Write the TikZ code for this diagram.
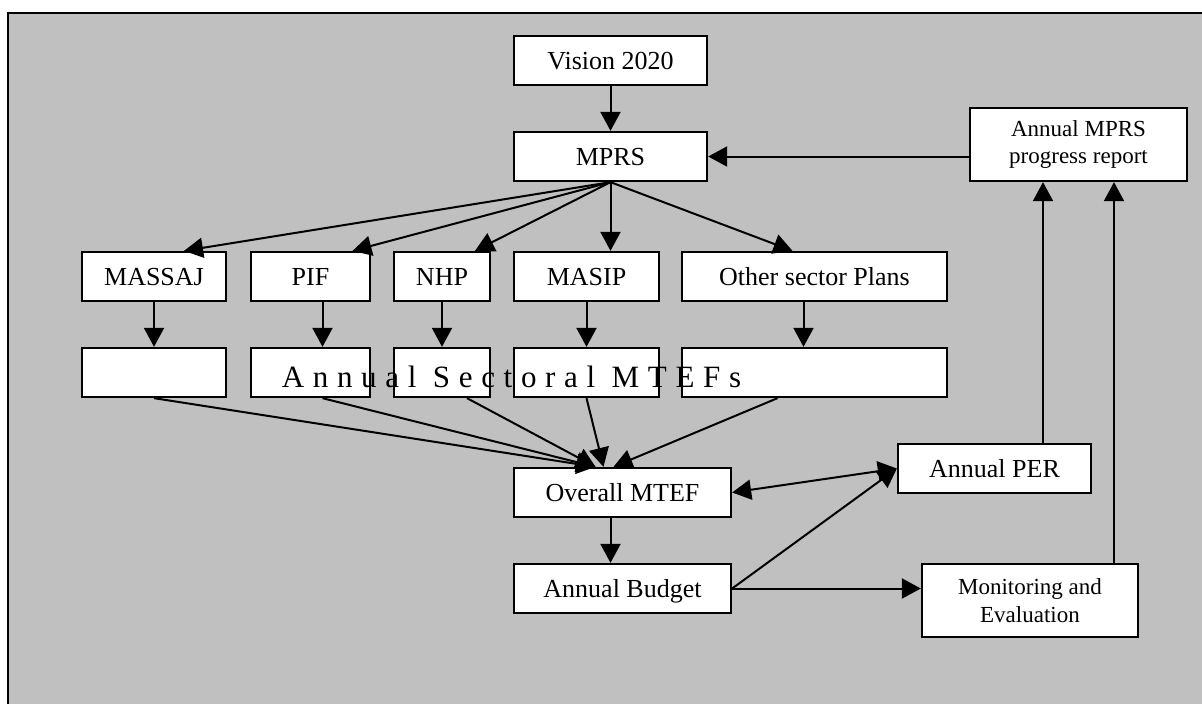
\documentclass[tikz,border=0pt]{standalone}
\usepackage{fontspec}
\setmainfont{Liberation Serif}
\newfontfamily\spacedfont[LetterSpace=28]{Liberation Serif}
\usepackage{tikz}
\usetikzlibrary{arrows.meta, calc}
\definecolor{panelgray}{RGB}{192,192,192}
\tikzstyle{process} = [rectangle, minimum height=49pt, inner sep=0pt, text centered, draw=black, fill=white, line width=2.3pt, font=\fontsize{26}{30}\selectfont, text height=18pt, text depth=0pt]
\tikzstyle{process2} = [rectangle, minimum height=73pt, inner sep=0pt, align=center, draw=black, fill=white, line width=2.3pt, font=\fontsize{23}{28}\selectfont]
\tikzstyle{spaced} = [anchor=base, inner sep=0pt, font=\spacedfont\fontsize{31}{32}\selectfont]
\tikzstyle{arrow} = [line width=2pt, -{Triangle[length=19pt, width=20pt]}]
\tikzstyle{dblarrow} = [line width=2pt, {Triangle[length=19pt, width=20pt]}-{Triangle[length=19pt, width=20pt]}]

\begin{document}
\begin{tikzpicture}[x=1pt, y=1pt, node distance=96pt]
                        \useasboundingbox (0,0) rectangle (1202,-704);
                        \draw [fill=panelgray, line width=2pt] (8,-13) rectangle (1215,-715);

                        \node (1) [process, minimum width=193pt] at (610.5,-60.5) {Vision 2020};
                        \node (2) [process, below of=1, minimum width=193pt] {MPRS};
                        \node (3) [process2, minimum width=217pt] at (1078.5,-144.5) {Annual MPRS\\progress report};

                        \node (4) [process, minimum width=144pt] at (154,-276.5) {MASSAJ};
                        \node (5) [process, minimum width=119pt] at (310.5,-276.5) {PIF};
                        \node (6) [process, minimum width=96pt] at (442,-276.5) {NHP};
                        \node (7) [process, minimum width=145pt] at (586.5,-276.5) {MASIP};
                        \node (8) [process, minimum width=265pt] at (814.5,-276.5) {Other sector Plans};

                        \node (9) [process, below of=4, minimum width=144pt] {};
                        \node (10) [process, below of=5, minimum width=119pt] {};
                        \node (11) [process, below of=6, minimum width=96pt] {};
                        \node (12) [process, below of=7, minimum width=145pt] {};
                        \node (13) [process, below of=8, minimum width=265pt] {};

                        \node (14) [process, minimum width=217pt] at (622.5,-492.5) {Overall MTEF};
                        \node (15) [process, below of=14, minimum width=217pt] {Annual Budget};
                        \node (16) [process, minimum width=193pt] at (994.5,-468.5) {Annual PER};
                        \node (17) [process2, minimum width=216pt] at (1030,-600.5) {Monitoring and\\Evaluation};

                        \node (18) [spaced] at (511.5,-387) {Annual Sectoral MTEFs};

                        \draw [arrow] (1) -- (2);
                        \draw [arrow] ($(3.west)+(0,-12)$) -- (2.east);
                        \draw [arrow] (2.south) -- ($(4.north)+(30,0)$);
                        \draw [arrow] (2.south) -- ($(5.north)+(42,0)$);
                        \draw [arrow] (2.south) -- ($(6.north)+(33,0)$);
                        \draw [arrow] (2.south) -- ($(7.north)+(24,0)$);
                        \draw [arrow] (2.south) -- ($(8.north)+(-22,0)$);

                        \draw [arrow] (4) -- (9);
                        \draw [arrow] ($(5.south)+(12,0)$) -- ($(10.north)+(12,0)$);
                        \draw [arrow] (6) -- (11);
                        \draw [arrow] (7) -- (12);
                        \draw [arrow] ($(8.south)+(-11,0)$) -- ($(13.north)+(-11,0)$);

                        \draw [arrow] (9.south) -- ($(14.north)+(-27,0)$);
                        \draw [arrow] ($(10.south)+(12,0)$) -- ($(14.north)+(-27,0)$);
                        \draw [arrow] ($(11.south)+(25,0)$) -- ($(14.north)+(-27,0)$);
                        \draw [arrow] (12.south) -- ($(14.north)+(-19,0)$);
                        \draw [arrow] ($(13.south)+(-37,0)$) -- ($(14.north)+(-9,0)$);

                        \draw [arrow] ($(14.south)+(-12,0)$) -- ($(15.north)+(-12,0)$);
                        \draw [dblarrow] (14.east) -- (16.west);
                        \draw [arrow] (15.east) -- (16.west);
                        \draw [arrow] (15.east) -- ($(17.west)+(0,12)$);
                        \draw [arrow] ($(16.north)+(48.5,0)$) -- ($(3.south)+(-35.5,0)$);
                        \draw [arrow] ($(17.north)+(84,0)$) -- ($(3.south)+(35.5,0)$);
                    \end{tikzpicture}
\end{document}
